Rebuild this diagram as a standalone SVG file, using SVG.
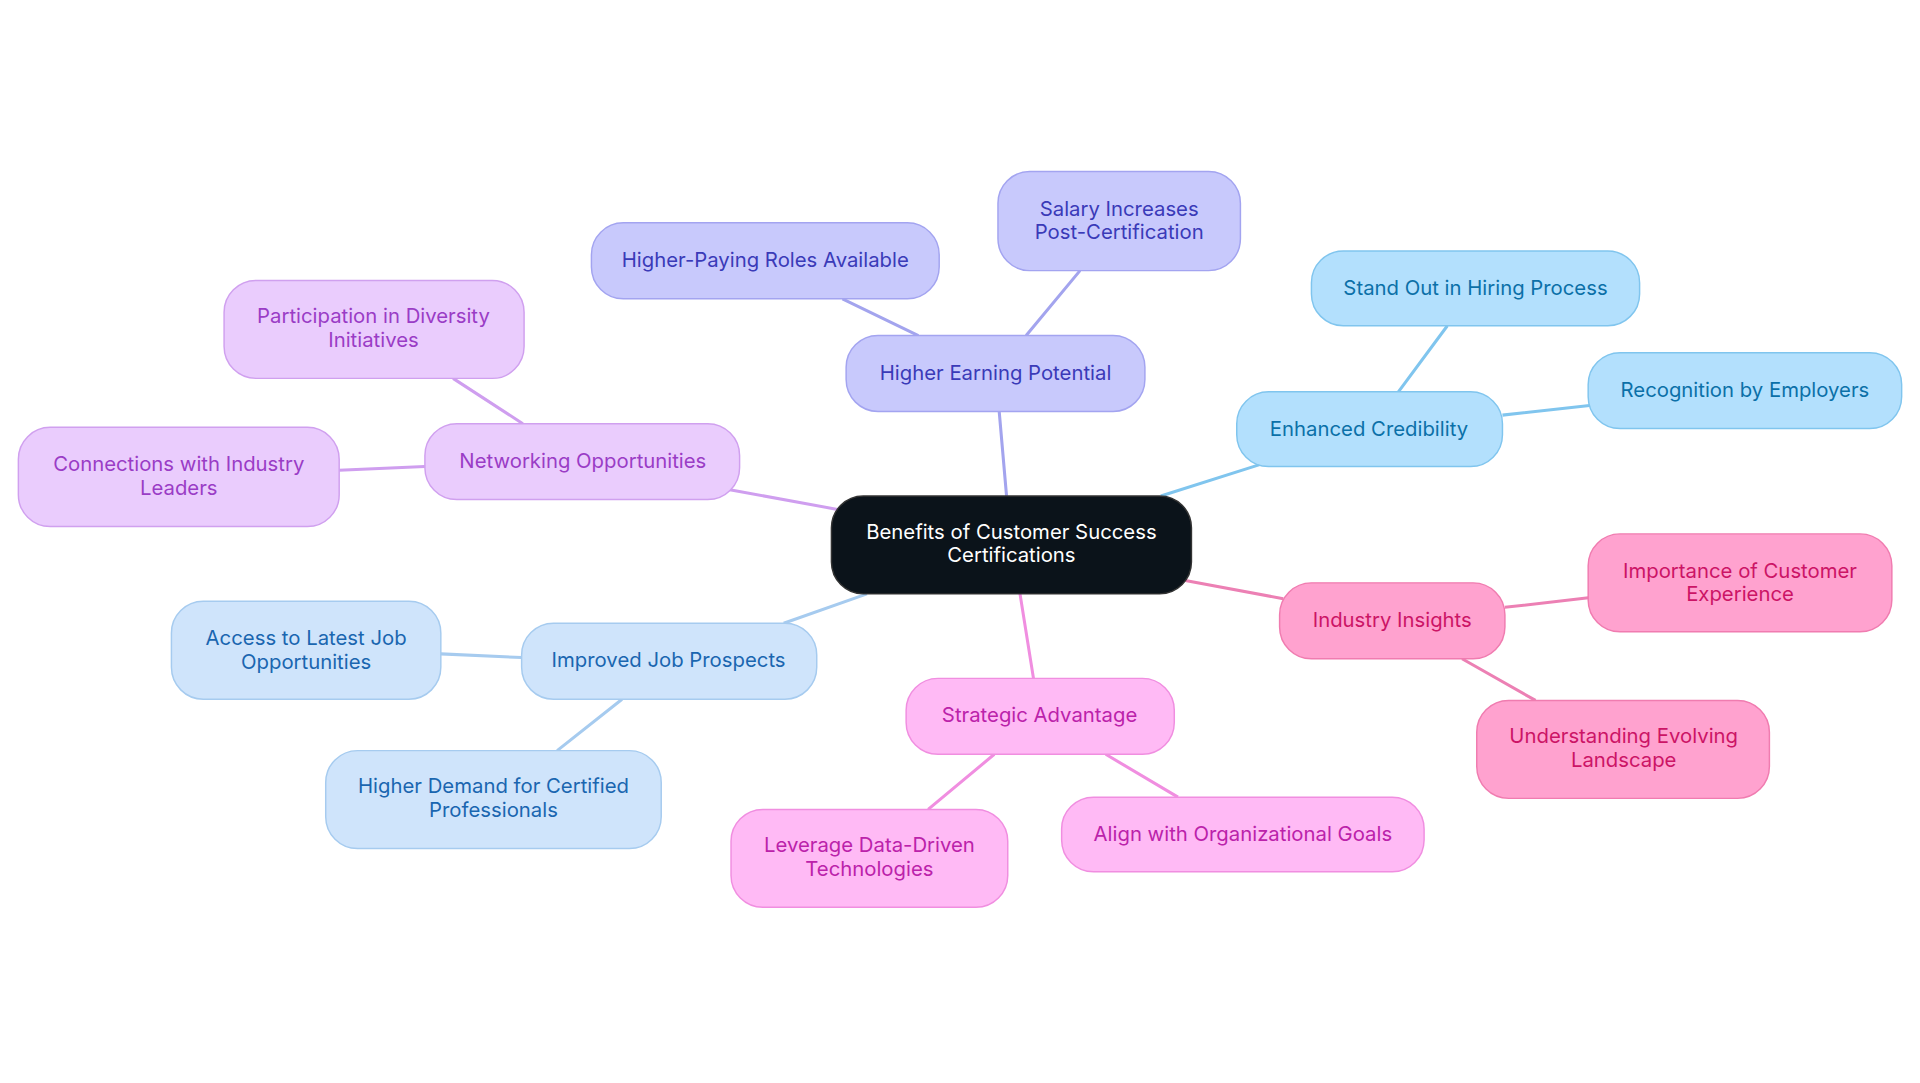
<svg xmlns="http://www.w3.org/2000/svg" width="1920" height="1083" viewBox="0 0 1920 1083">
<style>
text{font-family:Inter,"Noto Sans",sans-serif;font-size:16.6px;text-anchor:middle}
.e{fill:none;stroke-width:2.5}
.pu rect{fill:#c8c9fc;stroke:#a3a4f0}.pu text{fill:#3a3ab8}
.bl rect{fill:#b3e0fd;stroke:#80c5ee}.bl text{fill:#0b70a8}
.pk rect{fill:#ffa2cf;stroke:#f07cb0}.pk text{fill:#cc1466}
.mg rect{fill:#ffbaf5;stroke:#f08ee0}.mg text{fill:#bb22aa}
.lb rect{fill:#cfe4fb;stroke:#a6cbef}.lb text{fill:#1a66b0}
.vi rect{fill:#eaccfd;stroke:#d0a0ef}.vi text{fill:#9a3cc6}
rect{stroke-width:1.2}
</style>
<rect width="1920" height="1083" fill="#fff"/>
<g transform="scale(1.2245)">
<g id="connectors">
<path class="e" stroke="#a3a4ee" d="M822 405L816 336M750 274L688 244M838 274L882 221"/>
<path class="e" stroke="#80c5ee" d="M948 405L1030 379M1142 320L1182 266M1227 339L1300 331"/>
<path class="e" stroke="#ec80b4" d="M968 474L1048 489M1229 496L1299 488M1194 538L1254 572"/>
<path class="e" stroke="#f08ee0" d="M833 485L844 554M812 616L758 661M903 616L962 651"/>
<path class="e" stroke="#a6cbef" d="M708 485L640 509M426 537L360 534M508 571L455 613"/>
<path class="e" stroke="#cf9eef" d="M684 416L596 400M427 346L370 309M347 381L277 384"/>
</g>
<g id="center"><rect x="679" y="405" width="294" height="80" rx="26" fill="#0b131a" stroke="#333"/><text x="826" y="440" fill="#fff">Benefits of Customer Success</text><text x="826" y="459" fill="#fff">Certifications</text></g>
<g id="n1" class="pu"><rect x="691" y="274" width="244" height="62" rx="26"/><text x="813" y="310">Higher Earning Potential</text></g>
<g id="n2" class="pu"><rect x="483" y="182" width="284" height="62" rx="26"/><text x="625" y="218">Higher-Paying Roles Available</text></g>
<g id="n3" class="pu"><rect x="815" y="140" width="198" height="81" rx="26"/><text x="914" y="176">Salary Increases</text><text x="914" y="195">Post-Certification</text></g>
<g id="n4" class="bl"><rect x="1010" y="320" width="217" height="61" rx="26"/><text x="1118" y="356">Enhanced Credibility</text></g>
<g id="n5" class="bl"><rect x="1071" y="205" width="268" height="61" rx="26"/><text x="1205" y="241">Stand Out in Hiring Process</text></g>
<g id="n6" class="bl"><rect x="1297" y="288" width="256" height="62" rx="26"/><text x="1425" y="324">Recognition by Employers</text></g>
<g id="n7" class="pk"><rect x="1045" y="476" width="184" height="62" rx="26"/><text x="1137" y="512">Industry Insights</text></g>
<g id="n8" class="pk"><rect x="1297" y="436" width="248" height="80" rx="26"/><text x="1421" y="472">Importance of Customer</text><text x="1421" y="491">Experience</text></g>
<g id="n9" class="pk"><rect x="1206" y="572" width="239" height="80" rx="26"/><text x="1326" y="607">Understanding Evolving</text><text x="1326" y="626">Landscape</text></g>
<g id="n10" class="mg"><rect x="740" y="554" width="219" height="62" rx="26"/><text x="849" y="590">Strategic Advantage</text></g>
<g id="n11" class="mg"><rect x="597" y="661" width="226" height="80" rx="26"/><text x="710" y="696">Leverage Data-Driven</text><text x="710" y="715">Technologies</text></g>
<g id="n12" class="mg"><rect x="867" y="651" width="296" height="61" rx="26"/><text x="1015" y="687">Align with Organizational Goals</text></g>
<g id="n13" class="lb"><rect x="426" y="509" width="241" height="62" rx="26"/><text x="546" y="545">Improved Job Prospects</text></g>
<g id="n14" class="lb"><rect x="140" y="491" width="220" height="80" rx="26"/><text x="250" y="527">Access to Latest Job</text><text x="250" y="546">Opportunities</text></g>
<g id="n15" class="lb"><rect x="266" y="613" width="274" height="80" rx="26"/><text x="403" y="648">Higher Demand for Certified</text><text x="403" y="667">Professionals</text></g>
<g id="n16" class="vi"><rect x="347" y="346" width="257" height="62" rx="26"/><text x="476" y="382">Networking Opportunities</text></g>
<g id="n17" class="vi"><rect x="183" y="229" width="245" height="80" rx="26"/><text x="305" y="264">Participation in Diversity</text><text x="305" y="283">Initiatives</text></g>
<g id="n18" class="vi"><rect x="15" y="349" width="262" height="81" rx="26"/><text x="146" y="385">Connections with Industry</text><text x="146" y="404">Leaders</text></g>
</g>
</svg>
